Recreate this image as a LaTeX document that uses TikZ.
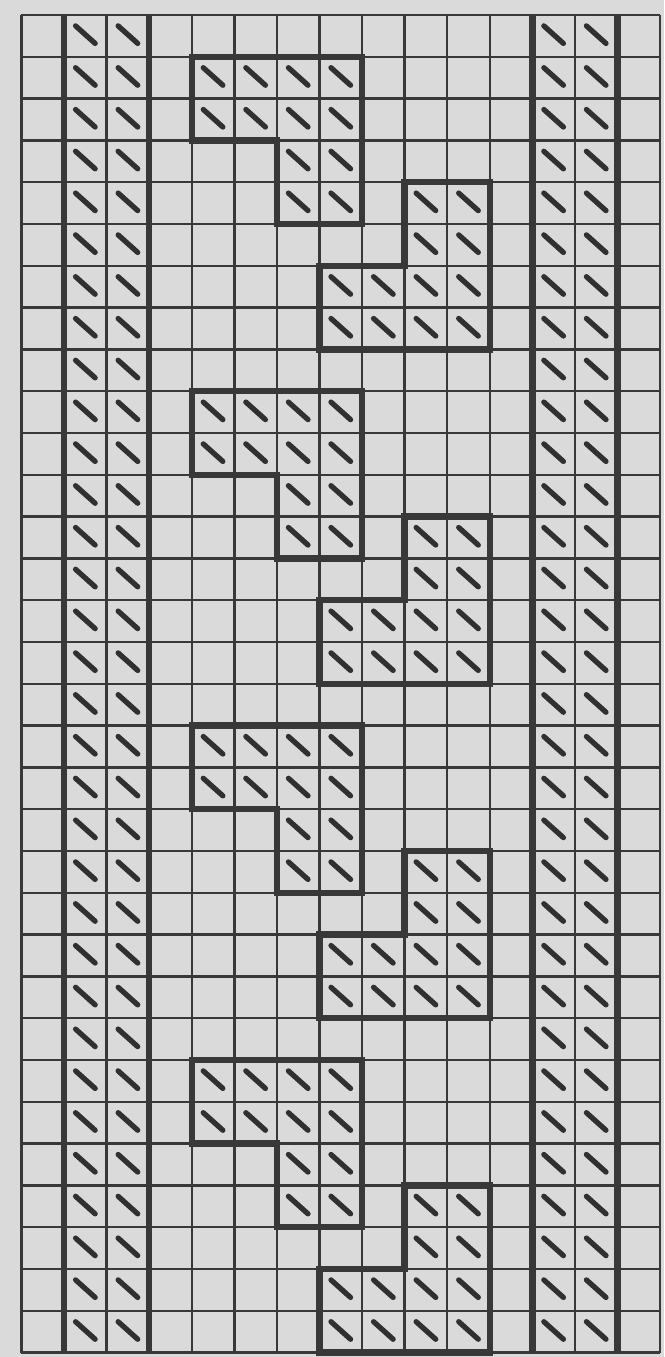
\documentclass[tikz,border=0pt]{standalone}
\usepackage{xcolor}
\usetikzlibrary{positioning}

\definecolor{paper}{HTML}{DADADA}
\definecolor{ink}{HTML}{383838}

\tikzset{
    gridline/.style={draw=ink, line width=0.7pt},
    boldline/.style={draw=ink, line width=1.8pt},
    stitchmark/.style={draw=ink!85!black, line width=1.5pt, line cap=round},
}
\newcommand{\stitchat}[2]{\draw[stitchmark] (#1+0.27,#2+0.26) -- (#1+0.73,#2+0.68);}

\begin{document}
\begin{tikzpicture}[x=0.4257cm, y=-0.418cm]
    % paper and frame
    \fill[paper] (-0.505,-0.359) rectangle (15.094,32.105);
    \useasboundingbox (-0.505,-0.359) rectangle (15.094,32.105);
    \foreach \c in {0,...,15} {\draw[gridline] (\c,0) -- (\c,32);}
    \foreach \r in {0,...,32} {\draw[gridline] (0,\r) -- (15,\r);}
    % side bands
    \foreach \c in {1,3,12,14} {\draw[boldline] (\c,0) -- (\c,32);}
    \foreach \r in {0,...,31} {
        \foreach \c in {1,2,12,13} {\stitchat{\c}{\r}}
    }
    % steps, repeated every 8 rows
    \foreach \k in {0,...,3} {
        \pgfmathtruncatemacro{\r}{1+8*\k}
        \foreach \c in {4,...,7} {\stitchat{\c}{\r} \stitchat{\c}{\r+1}}
        \foreach \c in {6,7} {\stitchat{\c}{\r+2} \stitchat{\c}{\r+3}}
        \foreach \c in {9,10} {\stitchat{\c}{\r+3} \stitchat{\c}{\r+4}}
        \foreach \c in {7,...,10} {\stitchat{\c}{\r+5} \stitchat{\c}{\r+6}}
        \draw[boldline, line join=miter] (4,\r) -- (8,\r) -- (8,\r+4) -- (6,\r+4)
            -- (6,\r+2) -- (4,\r+2) -- cycle;
        \draw[boldline, line join=miter] (9,\r+3) -- (11,\r+3) -- (11,\r+7) -- (7,\r+7)
            -- (7,\r+5) -- (9,\r+5) -- cycle;
    }
\end{tikzpicture}
\end{document}
